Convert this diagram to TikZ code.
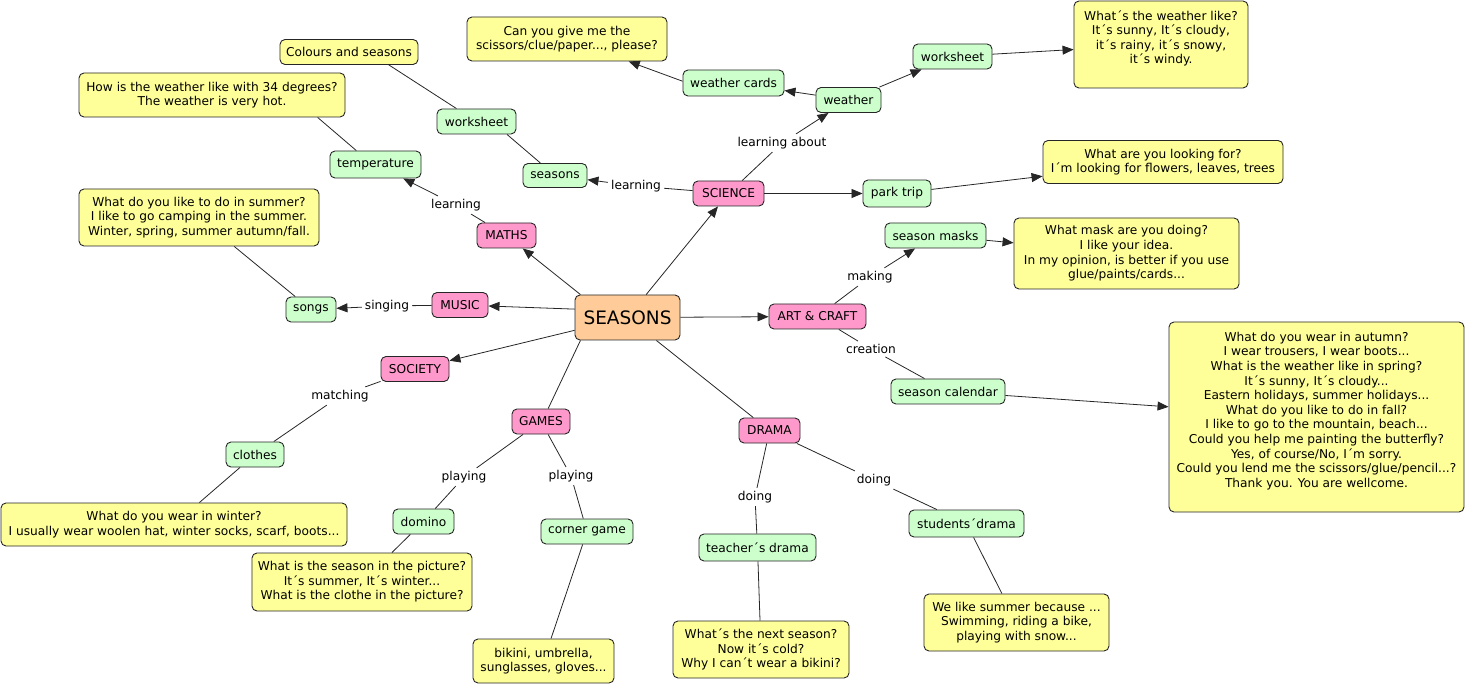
\documentclass[tikz,border=0pt]{standalone}
\usepackage{fontspec}
\setmainfont{DejaVu Sans}
\usetikzlibrary{arrows.meta}
\newcommand\fsz{\fontsize{12.2}{14.6}\selectfont}
\definecolor{yel}{HTML}{FFFF99}
\definecolor{grn}{HTML}{CCFFCC}
\definecolor{pnk}{HTML}{FF99CC}
\definecolor{org}{HTML}{FFCC99}
\tikzset{
  wh/.style 2 args={minimum width=#1pt, minimum height=#2pt},
  box/.style={draw=black!85, line width=0.9pt, rounded corners=5pt, align=center, inner sep=2pt, font=\fsz},
  ybox/.style={box, fill=yel},
  gbox/.style={box, fill=grn},
  pbox/.style={box, fill=pnk},
  obox/.style={box, fill=org},
  lbl/.style={inner sep=3pt, font=\fsz},
  ln/.style={line width=0.8pt, draw=black!85},
  arr/.style={ln, -{Triangle[length=11pt,width=9pt]}}
}
\begin{document}
\begin{tikzpicture}[x=1pt,y=-1pt]
\useasboundingbox (0,0) rectangle (1467,684);
% central
\node[obox, wh={105}{45}, font=\fontsize{18.5}{20}\selectfont] (seasons) at (627.5,317.5) {SEASONS};
% pink
\node[pbox, wh={71}{25}] (science) at (728.5,193.5) {SCIENCE};
\node[pbox, wh={59}{25}] (maths) at (506.5,235.5) {MATHS};
\node[pbox, wh={56}{25}] (music) at (460,305) {MUSIC};
\node[pbox, wh={68}{25}] (society) at (415,369) {SOCIETY};
\node[pbox, wh={97}{25}] (art) at (817.5,316.5) {ART \& CRAFT};
\node[pbox, wh={58}{25}] (games) at (541,421.5) {GAMES};
\node[pbox, wh={61}{25}] (drama) at (769.5,430.5) {DRAMA};
% green
\node[gbox, wh={79}{25}] (wsL) at (476.5,121.5) {worksheet};
\node[gbox, wh={91}{27}] (temp) at (375.5,164.5) {temperature};
\node[gbox, wh={64}{24}] (seas) at (555,175.5) {seasons};
\node[gbox, wh={101}{26}] (cards) at (733.5,83) {weather cards};
\node[gbox, wh={65}{25}] (weather) at (848.5,100) {weather};
\node[gbox, wh={79}{25}] (wsR) at (952.5,56.5) {worksheet};
\node[gbox, wh={68}{27}] (park) at (897,193.5) {park trip};
\node[gbox, wh={101}{25}] (masks) at (935.5,235.5) {season masks};
\node[gbox, wh={114}{25}] (cal) at (948,391.5) {season calendar};
\node[gbox, wh={50}{25}] (songs) at (311,309.5) {songs};
\node[gbox, wh={58}{25}] (clothes) at (255,454.5) {clothes};
\node[gbox, wh={61}{25}] (domino) at (423.5,521.5) {domino};
\node[gbox, wh={92}{25}] (corner) at (587,531.5) {corner game};
\node[gbox, wh={117}{27}] (teacher) at (757.5,547.5) {teacher´s drama};
\node[gbox, wh={115}{27}] (students) at (966.5,523.5) {students´drama};
% yellow
\node[ybox, wh={138}{25}] (colours) at (349,52) {Colours and seasons};
\node[ybox, wh={266}{44}] (howis) at (212,95) {How is the weather like with 34 degrees?\\The weather is very hot.};
\node[ybox, wh={240}{57}] (summer) at (199,217.5) {What do you like to do in summer?\\I like to go camping in the summer.\\Winter, spring, summer autumn/fall.};
\node[ybox, wh={200}{44}] (can) at (567,39) {Can you give me the\\scissors/clue/paper..., please?};
\node[ybox, wh={174}{87}] (whatw) at (1161,44.5) {What´s the weather like?\\It´s sunny, It´s cloudy,\\it´s rainy, it´s snowy,\\it´s windy.\\\phantom{x}};
\node[ybox, wh={240}{43}] (looking) at (1163,162) {What are you looking for?\\I´m looking for flowers, leaves, trees};
\node[ybox, wh={225}{71}] (mask) at (1126.5,253.5) {What mask are you doing?\\I like your idea.\\In my opinion, is better if you use\\glue/paints/cards...};
\node[ybox, wh={295}{190}] (big) at (1316.5,417) {What do you wear in autumn?\\I wear trousers, I wear boots...\\What is the weather like in spring?\\It´s sunny, It´s cloudy...\\Eastern holidays, summer holidays...\\What do you like to do in fall?\\I like to go to the mountain, beach...\\Could you help me painting the butterfly?\\Yes, of course/No, I´m sorry.\\Could you lend me the scissors/glue/pencil...?\\Thank you. You are wellcome.\\\phantom{x}};
\node[ybox, wh={346}{43}] (winter) at (174,524.5) {What do you wear in winter?\\I usually wear woolen hat, winter socks, scarf, boots...};
\node[ybox, wh={220}{58}] (pic) at (362,582) {What is the season in the picture?\\It´s summer, It´s winter...\\What is the clothe in the picture?};
\node[ybox, wh={141}{44}] (bikini) at (543.5,661) {bikini, umbrella,\\sunglasses, gloves...};
\node[ybox, wh={176}{57}] (next) at (761,649.5) {What´s the next season?\\Now it´s cold?\\Why I can´t wear a bikini?};
\node[ybox, wh={185}{57}] (welike) at (1016.5,622.5) {We like summer because ...\\Swimming, riding a bike,\\playing with snow...};
% link labels
\node[lbl] (l1) at (456,205) {learning};
\node[lbl] (l2) at (636,186) {learning};
\node[lbl] (l3) at (782,143) {learning about};
\node[lbl] (l4) at (387,306) {singing};
\node[lbl] (l5) at (340,396) {matching};
\node[lbl] (l6) at (464,477) {playing};
\node[lbl] (l7) at (571,476) {playing};
\node[lbl] (l8) at (870,277) {making};
\node[lbl] (l9) at (871,349) {creation};
\node[lbl] (l10) at (755,497) {doing};
\node[lbl] (l11) at (874,480) {doing};
% connectors
\draw[arr] (seasons.154) -- (maths);
\draw[arr] (seasons) -- (science);
\draw[arr] (seasons.171) -- (music);
\draw[arr] (seasons) -- (society);
\draw[arr] (seasons) -- (art);
\draw[ln] (seasons.206) -- (games.61);
\draw[ln] (seasons) -- (drama);
\draw[ln] (maths) -- (l1);
\draw[arr] (l1) -- (temp);
\draw[ln] (temp.144) -- (howis.348);
\draw[ln] (science) -- (l2);
\draw[arr] (l2) -- (seas);
\draw[ln] (wsL.-23) -- (seas);
\draw[ln] (colours.-18) -- (wsL);
\draw[ln] (science) -- (l3);
\draw[arr] (l3) -- (weather);
\draw[arr] (weather) -- (cards);
\draw[arr] (cards.178) -- (can.-20);
\draw[arr] (weather) -- (wsR);
\draw[arr] (wsR) -- (whatw);
\draw[arr] (science) -- (park);
\draw[arr] (park) -- (looking);
\draw[ln] (music) -- (l4);
\draw[arr] (l4) -- (songs);
\draw[ln] (songs) -- (summer);
\draw[ln] (society) -- (l5);
\draw[ln] (l5) -- (clothes);
\draw[ln] (clothes) -- (winter);
\draw[ln] (games) -- (l6);
\draw[ln] (l6) -- (domino);
\draw[ln] (domino) -- (pic);
\draw[ln] (games) -- (l7);
\draw[ln] (l7) -- (corner);
\draw[ln] (corner) -- (bikini);
\draw[ln] (drama) -- (l10);
\draw[ln] (l10) -- (teacher);
\draw[ln] (teacher) -- (next);
\draw[ln] (drama) -- (l11);
\draw[ln] (l11) -- (students);
\draw[ln] (students) -- (welike);
\draw[ln] (art) -- (l8);
\draw[arr] (l8) -- (masks);
\draw[arr] (masks) -- (mask);
\draw[ln] (art) -- (l9);
\draw[ln] (l9) -- (cal);
\draw[arr] (cal) -- (big);
\end{tikzpicture}
\end{document}
